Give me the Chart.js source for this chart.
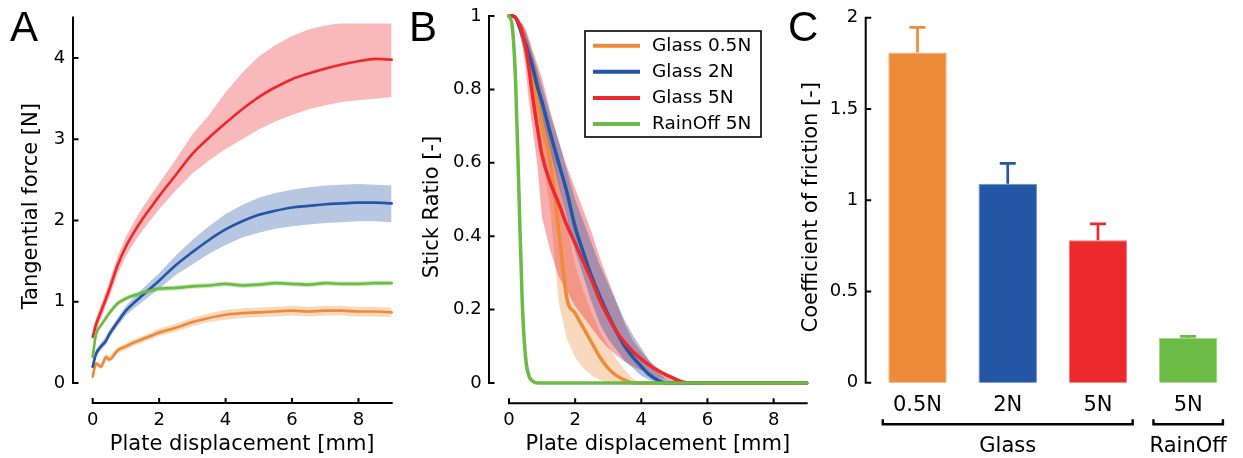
<!DOCTYPE html>
<html><head><meta charset="utf-8">
<script src="https://cdn.jsdelivr.net/npm/chart.js@4/dist/chart.umd.min.js"></script>
<style>
html,body{margin:0;padding:0;background:#fff;}
#wrap{position:relative;width:1243px;height:458px;overflow:hidden;background:#fff;}
canvas{position:absolute;top:0;}
.lt{position:absolute;top:6px;font-family:'Liberation Sans',Arial,sans-serif;font-size:42px;line-height:42px;color:#000;}
</style></head><body>
<div id="wrap">
<canvas id="cA" width="410" height="458" style="left:0px;width:410px;height:458px"></canvas>
<canvas id="cB" width="420" height="458" style="left:410px;width:420px;height:458px"></canvas>
<canvas id="cC" width="463" height="458" style="left:780px;width:463px;height:458px"></canvas>
<div class="lt" style="left:10px">A</div>
<div class="lt" style="left:409px">B</div>
<div class="lt" style="left:788px">C</div>
</div>
<script>
// ---------------- DATA ----------------
// Panel A: tangential force [N] vs plate displacement [mm]
const xA = [0,0.1,0.25,0.4,0.5,0.75,1,1.25,1.5,1.75,2,2.5,3,3.5,4,4.5,5,5.5,6,6.5,7,7.5,8,8.5,9];
const orangeA   = [0.08,0.24,0.20,0.32,0.29,0.40,0.45,0.50,0.54,0.58,0.62,0.68,0.75,0.80,0.84,0.86,0.87,0.88,0.89,0.88,0.89,0.89,0.88,0.88,0.87];
const orangeAhi = [0.11,0.27,0.24,0.36,0.33,0.44,0.49,0.54,0.58,0.62,0.67,0.73,0.80,0.86,0.90,0.92,0.93,0.94,0.95,0.94,0.95,0.95,0.94,0.94,0.93];
const orangeAlo = [0.05,0.20,0.17,0.28,0.25,0.36,0.41,0.46,0.50,0.54,0.58,0.63,0.70,0.75,0.78,0.80,0.81,0.82,0.83,0.82,0.83,0.83,0.82,0.82,0.81];
const blueA     = [0.20,0.36,0.45,0.52,0.60,0.75,0.89,0.99,1.08,1.17,1.26,1.45,1.61,1.76,1.89,1.99,2.07,2.12,2.16,2.18,2.20,2.21,2.22,2.22,2.21];
const blueAhi   = [0.24,0.40,0.50,0.57,0.65,0.80,0.95,1.06,1.16,1.26,1.35,1.57,1.76,1.93,2.08,2.19,2.28,2.34,2.38,2.41,2.43,2.44,2.45,2.44,2.43];
const blueAlo   = [0.17,0.32,0.41,0.47,0.55,0.70,0.83,0.92,1.00,1.08,1.16,1.33,1.46,1.59,1.70,1.79,1.85,1.90,1.93,1.95,1.97,1.98,1.99,1.99,1.98];
const redA      = [0.57,0.72,0.88,1.04,1.15,1.45,1.68,1.86,2.02,2.16,2.30,2.56,2.82,3.02,3.20,3.37,3.52,3.64,3.74,3.81,3.87,3.92,3.96,3.99,3.98];
const redAhi    = [0.64,0.80,0.97,1.13,1.25,1.56,1.80,1.99,2.16,2.31,2.46,2.75,3.06,3.30,3.58,3.82,4.02,4.16,4.27,4.35,4.40,4.43,4.45,4.46,4.46];
const redAlo    = [0.50,0.64,0.79,0.95,1.05,1.34,1.56,1.73,1.88,2.01,2.14,2.37,2.58,2.74,2.88,3.00,3.12,3.22,3.30,3.37,3.42,3.46,3.48,3.50,3.52];
const greenA    = [0.32,0.60,0.71,0.80,0.86,0.98,1.04,1.08,1.11,1.14,1.16,1.17,1.19,1.20,1.22,1.20,1.21,1.23,1.22,1.21,1.23,1.22,1.22,1.23,1.23];
const greenAhi  = [0.36,0.64,0.74,0.83,0.89,1.01,1.07,1.11,1.14,1.17,1.19,1.20,1.22,1.23,1.25,1.23,1.24,1.26,1.25,1.24,1.26,1.25,1.25,1.26,1.26];
const greenAlo  = [0.28,0.56,0.68,0.77,0.83,0.95,1.01,1.05,1.08,1.11,1.13,1.14,1.16,1.17,1.19,1.17,1.18,1.20,1.19,1.18,1.20,1.19,1.19,1.20,1.20];

// Panel B: stick ratio [-] vs plate displacement [mm]
const xB = [0,0.1,0.2,0.3,0.4,0.5,0.6,0.7,0.85,1,1.25,1.5,1.75,2,2.25,2.5,2.75,3,3.25,3.5,3.75,4,4.25,4.5,4.75,5,5.25,5.5,6,7,8,9];
const orangeB   = [1,1,0.995,0.98,0.955,0.925,0.88,0.84,0.77,0.70,0.60,0.42,0.23,0.19,0.15,0.11,0.07,0.04,0.02,0.008,0,0,0,0,0,0,0,0,0,0,0,0];
const orangeBhi = [1,1,1,0.995,0.98,0.96,0.93,0.90,0.85,0.78,0.69,0.56,0.43,0.32,0.25,0.19,0.14,0.10,0.065,0.035,0.012,0,0,0,0,0,0,0,0,0,0,0];
const orangeBlo = [1,0.995,0.985,0.96,0.93,0.89,0.83,0.78,0.69,0.62,0.47,0.22,0.12,0.07,0.04,0.02,0.008,0,0,0,0,0,0,0,0,0,0,0,0,0,0,0];
const blueB     = [1,1,0.995,0.975,0.95,0.925,0.895,0.865,0.81,0.765,0.68,0.60,0.52,0.425,0.355,0.29,0.235,0.185,0.14,0.10,0.07,0.045,0.022,0.008,0,0,0,0,0,0,0,0];
const blueBhi   = [1,1,1,0.99,0.975,0.955,0.93,0.90,0.855,0.81,0.73,0.66,0.58,0.50,0.44,0.38,0.32,0.27,0.22,0.17,0.13,0.095,0.06,0.03,0.01,0,0,0,0,0,0,0];
const blueBlo   = [1,0.995,0.985,0.96,0.925,0.895,0.86,0.83,0.77,0.72,0.63,0.54,0.45,0.36,0.29,0.22,0.16,0.12,0.09,0.06,0.04,0.02,0.008,0,0,0,0,0,0,0,0,0];
const redB      = [1,1,0.995,0.98,0.955,0.915,0.86,0.79,0.70,0.62,0.545,0.49,0.43,0.38,0.33,0.28,0.225,0.18,0.14,0.11,0.085,0.065,0.048,0.034,0.022,0.012,0.003,0,0,0,0,0];
const redBhi    = [1,1,1,0.995,0.98,0.965,0.94,0.91,0.87,0.83,0.74,0.66,0.59,0.53,0.47,0.41,0.34,0.28,0.22,0.16,0.115,0.085,0.06,0.04,0.025,0.012,0.003,0,0,0,0,0];
const redBlo    = [1,0.995,0.985,0.96,0.92,0.86,0.77,0.70,0.60,0.45,0.36,0.29,0.25,0.21,0.18,0.15,0.12,0.095,0.075,0.058,0.045,0.035,0.025,0.015,0.008,0.003,0,0,0,0,0,0];
const greenB    = [1,0.97,0.82,0.52,0.22,0.07,0.02,0.006,0,0,0,0,0,0,0,0,0,0,0,0,0,0,0,0,0,0,0,0,0,0,0,0];
const greenBhi  = [1,0.99,0.88,0.60,0.30,0.11,0.035,0.012,0,0,0,0,0,0,0,0,0,0,0,0,0,0,0,0,0,0,0,0,0,0,0,0];
const greenBlo  = [1,0.94,0.74,0.42,0.15,0.035,0.008,0,0,0,0,0,0,0,0,0,0,0,0,0,0,0,0,0,0,0,0,0,0,0,0,0];
const legendB   = ['Glass 0.5N','Glass 2N','Glass 5N','RainOff 5N'];

// Panel C: coefficient of friction
const catsC   = ['0.5N','2N','5N','5N'];
const cofMean = [1.81, 1.09, 0.78, 0.245];
const cofSD   = [0.137, 0.112, 0.09, 0.009];
const groupNames = ['Glass','RainOff'];
const groupFirst = [0, 3];
const groupLast  = [2, 3];

// tick labels
const xTickLabels = [0,2,4,6,8];
const yTickLabelsA = [0,1,2,3,4];
const yTickLabelsB = [0,0.2,0.4,0.6,0.8,1];
const yTickLabelsC = [0,0.5,1,1.5,2];

// ---------------- STYLE ----------------
const C_OR = '#EE8B3A', C_BL = '#2356A5', C_RD = '#EC2A2D', C_GR = '#6CBB45';
Chart.defaults.font.family = "'DejaVu Sans', Verdana, sans-serif";
Chart.defaults.color = '#000';
Chart.defaults.animation = false;

const pts = (xs, ys) => xs.map((x, i) => ({x, y: ys[i]}));
const hasLabel = (arr, v) => arr.some(a => Math.abs(a - v) < 1e-9);
const fmt = v => String(Math.round(v * 100) / 100);
// label offset from the plot edge is given through tickLength (grid hidden) so it does not pad the layout
const hiddenGrid = len => ({display: false, drawTicks: true, tickLength: len});

// ---------------- PLUGINS ----------------
const offsetAxes = {
  id: 'offsetAxes',
  afterLayout(chart, args, o) {
    // move only the y-axis title (pixel mapping is already configured)
    const ys = chart.scales.y;
    ys.top += o.titleShift; ys.bottom += o.titleShift;
  },
  afterDraw(chart, args, o) {
    const {ctx, chartArea: ca, scales} = chart;
    const ys = scales.y, xs = scales.x;
    ctx.save();
    ctx.strokeStyle = '#000';
    ctx.lineWidth = o.lineWidth;
    const ax = ca.left - o.yGap;
    ctx.beginPath();
    ctx.moveTo(ax, ys.getPixelForValue(ys.max) - 1);
    ctx.lineTo(ax, ys.getPixelForValue(ys.min) + 1);
    ys.ticks.forEach(t => { const p = ys.getPixelForValue(t.value); ctx.moveTo(ax, p); ctx.lineTo(ax + o.yTick, p); });
    ctx.stroke();
    if (o.drawX) {
      const ay = ca.bottom + o.xGap;
      ctx.beginPath();
      ctx.moveTo(xs.getPixelForValue(xs.min) - 1, ay);
      ctx.lineTo(xs.getPixelForValue(xs.max) + 1, ay);
      xs.ticks.forEach(t => { const p = xs.getPixelForValue(t.value); ctx.moveTo(p, ay); ctx.lineTo(p, ay - o.xTick); });
      ctx.stroke();
    }
    ctx.restore();
  }
};

const boxLegend = {
  id: 'boxLegend',
  afterDraw(chart, args, o) {
    const ctx = chart.ctx, ca = chart.chartArea;
    const items = chart.data.datasets.filter(d => d.inLegend);
    const x0 = ca.left + o.dx, y0 = ca.top + o.dy;
    ctx.save();
    ctx.fillStyle = '#fff';
    ctx.fillRect(x0, y0, o.w, o.h);
    ctx.strokeStyle = '#000';
    ctx.lineWidth = o.border;
    ctx.strokeRect(x0, y0, o.w, o.h);
    ctx.font = o.font;
    ctx.textBaseline = 'middle';
    items.forEach((d, i) => {
      const y = y0 + o.firstRow + i * o.rowGap;
      ctx.strokeStyle = d.borderColor;
      ctx.lineWidth = o.sampleWidth;
      ctx.beginPath(); ctx.moveTo(x0 + o.lineX0, y); ctx.lineTo(x0 + o.lineX1, y); ctx.stroke();
      ctx.fillStyle = '#000';
      ctx.fillText(d.label, x0 + o.textX, y);
    });
    ctx.restore();
  }
};

const errBars = {
  id: 'errBars',
  afterDatasetsDraw(chart, args, o) {
    const ctx = chart.ctx, ys = chart.scales.y;
    const meta = chart.getDatasetMeta(0), ds = chart.data.datasets[0];
    ctx.save();
    ctx.lineWidth = o.width;
    meta.data.forEach((bar, i) => {
      const yTop = ys.getPixelForValue(ds.data[i] + cofSD[i]);
      const yBase = ys.getPixelForValue(ds.data[i]);
      ctx.strokeStyle = ds.backgroundColor[i];
      ctx.beginPath();
      ctx.moveTo(bar.x, yBase); ctx.lineTo(bar.x, yTop);
      ctx.moveTo(bar.x - o.cap / 2, yTop); ctx.lineTo(bar.x + o.cap / 2, yTop);
      ctx.stroke();
    });
    ctx.restore();
  }
};

const groupBrackets = {
  id: 'groupBrackets',
  afterDraw(chart, args, o) {
    const ctx = chart.ctx, meta = chart.getDatasetMeta(0);
    const y = chart.chartArea.bottom + o.gap;
    ctx.save();
    ctx.strokeStyle = '#000';
    ctx.lineWidth = o.width;
    ctx.fillStyle = '#000';
    ctx.font = o.font;
    ctx.textAlign = 'center';
    ctx.textBaseline = 'middle';
    groupNames.forEach((name, k) => {
      const b0 = meta.data[groupFirst[k]], b1 = meta.data[groupLast[k]];
      const xl = b0.x - b0.width / 2 - o.overhang, xr = b1.x + b1.width / 2 + o.overhang;
      ctx.beginPath();
      ctx.moveTo(xl, y - o.tick); ctx.lineTo(xl, y); ctx.lineTo(xr, y); ctx.lineTo(xr, y - o.tick);
      ctx.stroke();
      ctx.fillText(name, (xl + xr) / 2, y + o.labelGap);
    });
    ctx.restore();
  }
};

// ---------------- HELPERS ----------------
function bandSets(xs, lo, hi, color, order) {
  return [
    {data: pts(xs, lo), borderWidth: 0, pointRadius: 0, fill: false, order},
    {data: pts(xs, hi), borderWidth: 0, pointRadius: 0, fill: '-1', backgroundColor: color, order}
  ];
}
function lineSet(xs, ys, color, width, order, label) {
  return {label, inLegend: !!label, data: pts(xs, ys), borderColor: color, borderWidth: width,
    pointRadius: 0, fill: false, order, borderCapStyle: 'round', borderJoinStyle: 'round',
    cubicInterpolationMode: 'monotone', clip: false};
}
function xScale() {
  return {
    type: 'linear', min: 0, max: 9,
    grid: hiddenGrid(26.5), border: {display: false},
    ticks: {stepSize: 1, autoSkip: false, maxRotation: 0, padding: 0, font: {size: 18},
      callback: v => hasLabel(xTickLabels, v) ? fmt(v) : null},
    title: {display: true, text: 'Plate displacement [mm]', font: {size: 21}, padding: {top: 0, bottom: 0.4}},
    afterFit: s => { s.height = 75; }
  };
}

// ---------------- PANEL A ----------------
new Chart(document.getElementById('cA'), {
  type: 'line',
  data: {datasets: [
    ...bandSets(xA, orangeAlo, orangeAhi, 'rgba(238,139,58,0.33)', 10),
    ...bandSets(xA, blueAlo, blueAhi, 'rgba(35,86,165,0.33)', 10),
    ...bandSets(xA, redAlo, redAhi, 'rgba(236,42,45,0.33)', 10),
    ...bandSets(xA, greenAlo, greenAhi, 'rgba(108,187,69,0.33)', 10),
    lineSet(xA, orangeA, C_OR, 2.7, 4),
    lineSet(xA, blueA, C_BL, 2.7, 3),
    lineSet(xA, redA, C_RD, 2.7, 2),
    lineSet(xA, greenA, C_GR, 2.7, 1)
  ]},
  options: {
    responsive: false, animation: false,
    layout: {padding: {left: 0, right: 18.3, top: 17.4, bottom: 0}},
    plugins: {legend: {display: false}, tooltip: {enabled: false},
      offsetAxes: {lineWidth: 2, yGap: 19.7, xGap: 20, yTick: 5.5, xTick: 5, drawX: true, titleShift: 6}},
    scales: {
      x: xScale(),
      y: {type: 'linear', min: 0, max: 4.5,
        grid: hiddenGrid(27.5), border: {display: false},
        ticks: {stepSize: 0.5, autoSkip: false, padding: 0, font: {size: 18},
          callback: v => hasLabel(yTickLabelsA, v) ? fmt(v) : null},
        title: {display: true, text: 'Tangential force [N]', font: {size: 21}, padding: {top: 19.4, bottom: 0}},
        afterFit: s => { s.width = 92.7; }
      }
    }
  },
  plugins: [offsetAxes]
});

// ---------------- PANEL B ----------------
new Chart(document.getElementById('cB'), {
  type: 'line',
  data: {datasets: [
    ...bandSets(xB, orangeBlo, orangeBhi, 'rgba(238,139,58,0.33)', 12),
    ...bandSets(xB, redBlo, redBhi, 'rgba(236,42,45,0.38)', 11),
    ...bandSets(xB, blueBlo, blueBhi, 'rgba(35,86,165,0.37)', 10),
    ...bandSets(xB, greenBlo, greenBhi, 'rgba(108,187,69,0.33)', 9),
    lineSet(xB, orangeB, C_OR, 3.5, 4, legendB[0]),
    lineSet(xB, blueB, C_BL, 3.5, 3, legendB[1]),
    lineSet(xB, redB, C_RD, 3.5, 2, legendB[2]),
    lineSet(xB, greenB, C_GR, 3.5, 1, legendB[3])
  ]},
  options: {
    responsive: false, animation: false,
    layout: {padding: {left: 0, right: 23.3, top: 16, bottom: 0}},
    plugins: {legend: {display: false}, tooltip: {enabled: false},
      offsetAxes: {lineWidth: 2, yGap: 20, xGap: 20.3, yTick: 5.5, xTick: 5, drawX: true, titleShift: 7.5},
      boxLegend: {dx: 76, dy: 15, w: 176, h: 106, border: 1.6, font: "18.5px 'DejaVu Sans', Verdana, sans-serif",
        firstRow: 14.7, rowGap: 26.1, lineX0: 8, lineX1: 55, textX: 67, sampleWidth: 4}},
    scales: {
      x: xScale(),
      y: {type: 'linear', min: 0, max: 1,
        grid: hiddenGrid(27.3), border: {display: false},
        ticks: {stepSize: 0.1, autoSkip: false, padding: 0, font: {size: 18},
          callback: v => hasLabel(yTickLabelsB, v) ? fmt(v) : null},
        title: {display: true, text: 'Stick Ratio [-]', font: {size: 21}, padding: {top: 10.1, bottom: 0}},
        afterFit: s => { s.width = 99; }
      }
    }
  },
  plugins: [offsetAxes, boxLegend]
});

// ---------------- PANEL C ----------------
new Chart(document.getElementById('cC'), {
  type: 'bar',
  data: {labels: catsC, datasets: [{
    data: cofMean,
    backgroundColor: [C_OR, C_BL, C_RD, C_GR],
    borderColor: ['#F4B07A', '#6F8FC8', '#F47577', '#A3D58A'],
    borderWidth: 1,
    categoryPercentage: 1, barPercentage: 0.648
  }]},
  options: {
    responsive: false, animation: false,
    layout: {padding: {left: 0, right: 9.7, top: 17.7, bottom: 0}},
    plugins: {legend: {display: false}, tooltip: {enabled: false},
      offsetAxes: {lineWidth: 2, yGap: 6.7, yTick: 5.5, drawX: false, titleShift: 7},
      errBars: {width: 2.7, cap: 16},
      groupBrackets: {gap: 41.6, tick: 5, width: 2.4, overhang: 5.5, labelGap: 22.4,
        font: "21px 'DejaVu Sans', Verdana, sans-serif"}},
    scales: {
      x: {type: 'category', offset: true,
        grid: hiddenGrid(10), border: {display: false},
        ticks: {padding: 0, font: {size: 21}, maxRotation: 0, autoSkip: false},
        afterFit: s => { s.height = 75.3; }
      },
      y: {type: 'linear', min: 0, max: 2,
        grid: hiddenGrid(14.1), border: {display: false},
        ticks: {stepSize: 0.25, autoSkip: false, padding: 0, font: {size: 18},
          callback: v => hasLabel(yTickLabelsC, v) ? fmt(v) : null},
        title: {display: true, text: 'Coefficient of friction [-]', font: {size: 21}, padding: {top: 19.1, bottom: 0}},
        afterFit: s => { s.width = 92.4; }
      }
    }
  },
  plugins: [offsetAxes, errBars, groupBrackets]
});
</script>
</body></html>
